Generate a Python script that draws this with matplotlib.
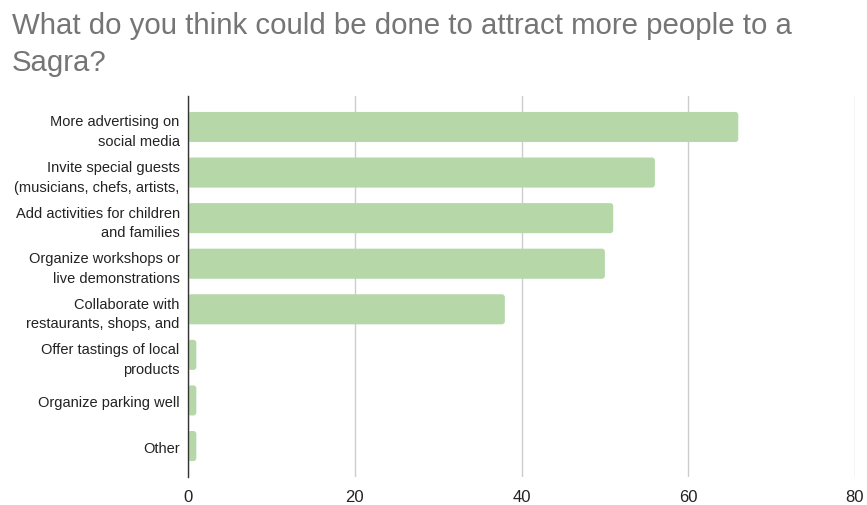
import matplotlib.pyplot as plt
from matplotlib.patches import FancyBboxPatch

plt.rcParams['font.family'] = ['Liberation Sans', 'DejaVu Sans']

labels = [
    "More advertising on\nsocial media",
    "Invite special guests\n(musicians, chefs, artists,",
    "Add activities for children\nand families",
    "Organize workshops or\nlive demonstrations",
    "Collaborate with\nrestaurants, shops, and",
    "Offer tastings of local\nproducts",
    "Organize parking well",
    "Other",
]
counts = [66, 56, 51, 50, 38, 1, 1, 1]
xticks = [0, 20, 40, 60, 80]

fig = plt.figure(figsize=(8.67, 5.06), dpi=100)
ax = fig.add_axes([188 / 867, 1 - 478 / 506, (855 - 188) / 867, (478 - 97) / 506])

ypos = list(range(len(labels)))
bars = ax.barh(ypos, counts, height=0.66, color='#b6d7a8')

# swap plain rectangles for slightly rounded ones
px_x = 80 / 667
px_y = 8.35 / 381
for b in bars:
    x0, y0 = b.get_x(), b.get_y()
    w, h = b.get_width(), b.get_height()
    b.set_visible(False)
    r = FancyBboxPatch((x0, y0), w, h,
                       boxstyle="round,pad=0,rounding_size=%f" % (3 * px_x),
                       mutation_aspect=px_y / px_x,
                       facecolor='#b6d7a8', edgecolor='none', zorder=2)
    ax.add_patch(r)

ax.set_xlim(0, 80)
ax.set_ylim(len(labels) - 0.5 + 0.18, -0.5 - 0.18)
ax.set_xticks(xticks)
ax.set_yticks(ypos)
ax.set_yticklabels(labels, fontsize=10.5, ha='right', multialignment='right')
for t in ax.get_yticklabels():
    t.set_linespacing(1.5)
ax.tick_params(axis='y', length=0, pad=6, labelcolor='#222222')
ax.tick_params(axis='x', length=0, pad=9, labelsize=12, labelcolor='#222222')

ax.grid(axis='x', color='#cccccc', linewidth=1)
ax.set_axisbelow(True)
for s in ['top', 'right', 'bottom']:
    ax.spines[s].set_visible(False)
ax.spines['left'].set_color('#333333')
ax.spines['left'].set_linewidth(1)
ax.spines['left'].set_zorder(3)

fig.text(12 / 867, 1 - 12 / 506,
         "What do you think could be done to attract more people to a\nSagra?",
         fontsize=21.2, color='#757575', ha='left', va='top', linespacing=1.42)

fig.savefig("out.png", dpi=100)
